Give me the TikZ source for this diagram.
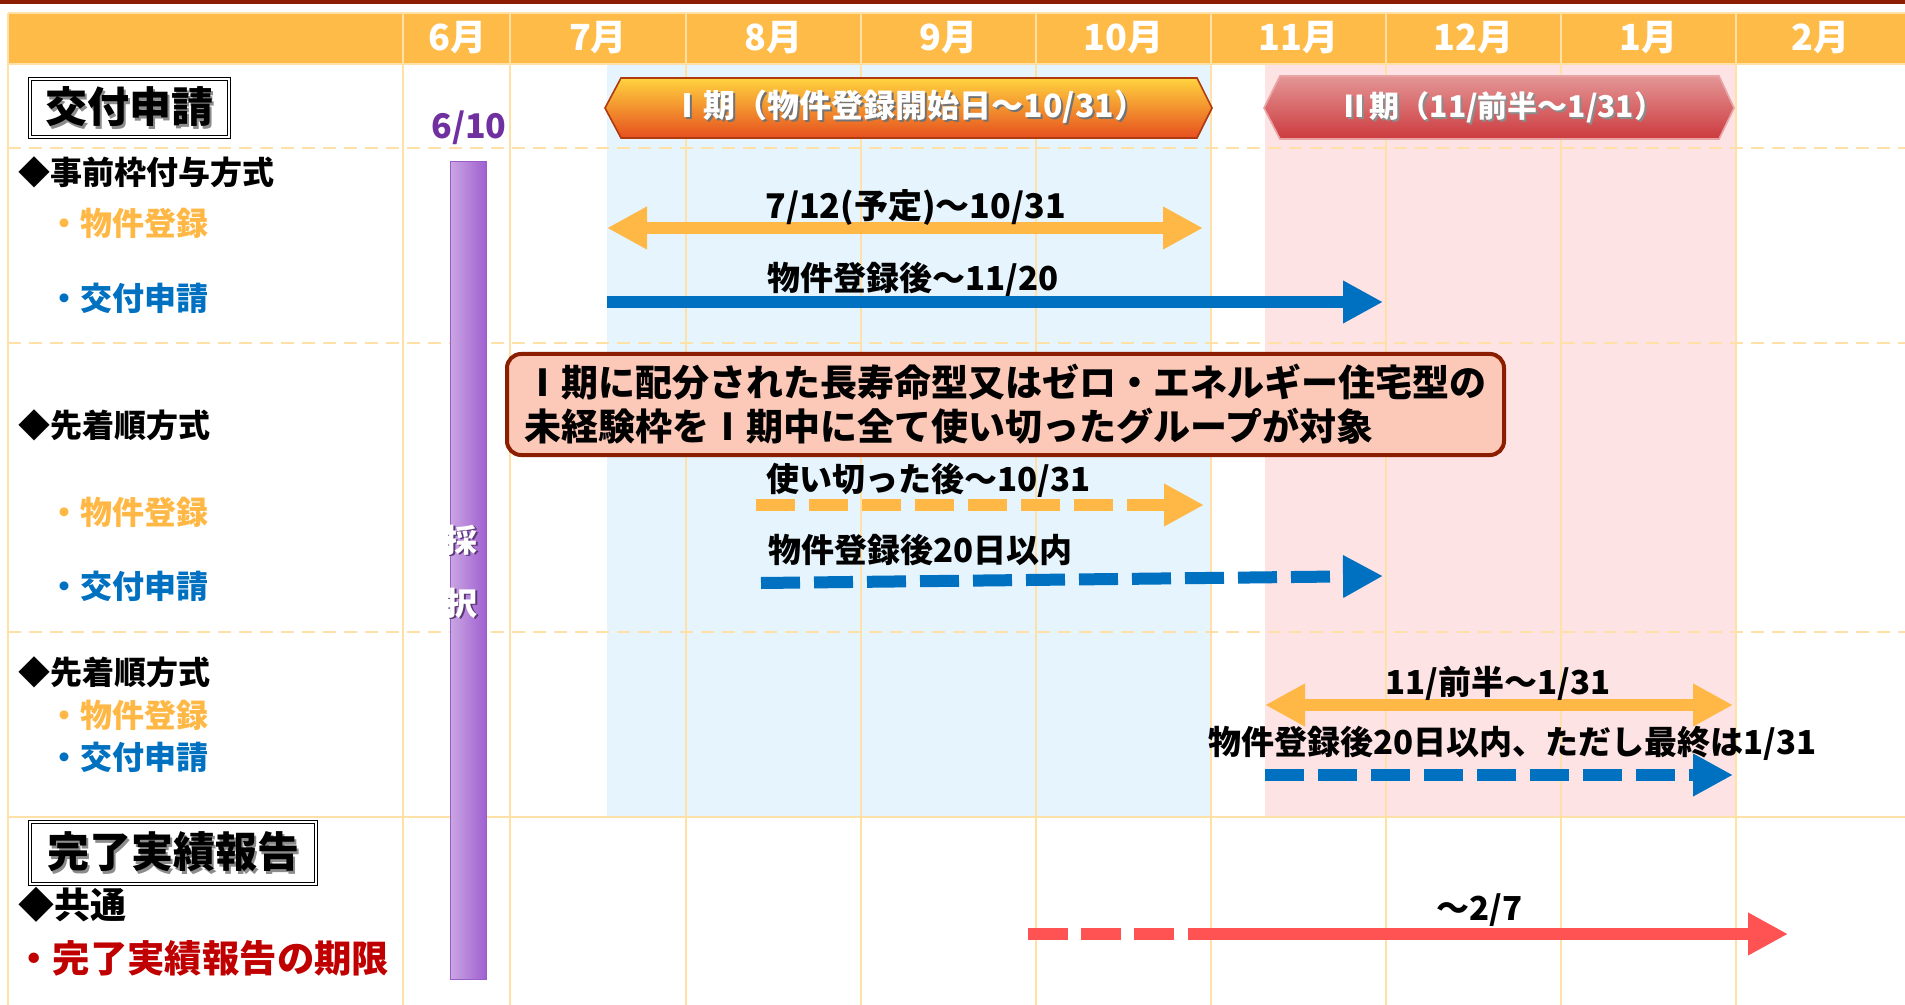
\documentclass[tikz,border=0pt]{standalone}
\usepackage{fontspec}
\setmainfont{Noto Sans CJK JP}
\usetikzlibrary{arrows.meta}
\definecolor{hdr}{HTML}{FFBB47}
\definecolor{gridc}{HTML}{FFE0A6}
\definecolor{topbar}{HTML}{8B1E00}
\definecolor{tintblue}{HTML}{E5F4FD}
\definecolor{tintpink}{HTML}{FDE3E4}
\definecolor{arrorange}{HTML}{FFB845}
\definecolor{arrblue}{HTML}{0070C0}
\definecolor{arrred}{HTML}{FF5252}
\definecolor{txtred}{HTML}{C00000}
\definecolor{purpletxt}{HTML}{7030A0}
\definecolor{calloutfill}{HTML}{FCC9B9}
\definecolor{calloutdraw}{HTML}{8B1E00}
\definecolor{barL}{HTML}{CAA6E3}
\definecolor{barR}{HTML}{A060D0}
\definecolor{barD}{HTML}{9A5CC8}
\definecolor{banItop}{HTML}{FFD33F}
\definecolor{banImid}{HTML}{F4A432}
\definecolor{banIbot}{HTML}{E64F1E}
\definecolor{banIdraw}{HTML}{B03A10}
\definecolor{banIItop}{HTML}{E49696}
\definecolor{banIIbot}{HTML}{CC3A3E}
\definecolor{banIIdraw}{HTML}{E8A4A4}
\newcommand{\shadowedx}[5]{\leavevmode\rlap{\kern#1\raisebox{-#2}{\color{#3}#5}}{\color{#4}#5}}
\begin{document}
\begin{tikzpicture}[x=0.5pt,y=-0.5pt,
  >={Triangle[length=20pt,width=20pt]},
  gridline/.style={gridc, line width=1.4pt},
  month/.style={font=\fontsize{18}{18}\selectfont\bfseries, text=white, inner sep=0pt},
  lbl/.style={font=\fontsize{16}{16}\selectfont\bfseries, anchor=west, inner sep=0pt},
  arrlbl/.style={font=\fontsize{16.5}{16.5}\selectfont\bfseries, inner sep=0pt},
  arrline/.style={line width=6pt},
  dashpat/.style={dash pattern=on 19.5pt off 7pt},
  titlebox/.style={draw=black, double=white, double distance=1.2pt, line width=0.6pt,
    fill=white, font=\fontsize{21}{21}\selectfont\bfseries, inner sep=0pt},
  bantext/.style={font=\fontsize{16}{16}\selectfont\bfseries, inner sep=0pt},
  bartext/.style={font=\fontsize{16}{16}\selectfont\bfseries, inner sep=0pt}
]
\useasboundingbox (0,0) rectangle (1905,1005);
% backgrounds
\fill[topbar] (0,0) rectangle (1905,4);
\fill[hdr] (8,13) rectangle (1905,64);
\fill[tintblue] (607,65) rectangle (1211,817);
\fill[tintpink] (1265,65) rectangle (1736,817);
% grid
\foreach \x in {8,403,510,686,861,1036,1211,1386,1561,1736}
  \draw[gridline] (\x,13) -- (\x,1005);
\draw[gridline] (8,13) -- (1905,13);
\draw[gridline] (8,64) -- (1905,64);
\draw[gridline] (8,817) -- (1905,817);
\foreach \y in {148,343,632}
  \draw[gridline, dash pattern=on 6.5pt off 4pt] (8,\y) -- (1905,\y);
% months
\foreach \x/\m [count=\i] in {457.5/6,598/7,773.5/8,948.5/9,1123.5/10,1298.5/11,1473.5/12,1648.5/1,1820.5/2}
  \node[month] (m\i) at (\x,38) {\m 月};
% title boxes
\node[titlebox, minimum width=99.5pt, minimum height=29pt] (t1) at (129.5,108) {\shadowedx{1.2pt}{1.2pt}{black!45}{black}{交付申請}};
\node[titlebox, minimum width=143pt, minimum height=31pt] (t2) at (173,853) {\shadowedx{1.2pt}{1.2pt}{black!45}{black}{完了実績報告}};
% left labels
\node[lbl] (l1) at (18,172) {◆事前枠付与方式};
\node[lbl, text=arrorange] (l2) at (48,223) {・物件登録};
\node[lbl, text=arrblue] (l3) at (48,298) {・交付申請};
\node[lbl] (l4) at (18,425) {◆先着順方式};
\node[lbl, text=arrorange] (l5) at (48,512) {・物件登録};
\node[lbl, text=arrblue] (l6) at (48,586) {・交付申請};
\node[lbl] (l7) at (18,672) {◆先着順方式};
\node[lbl, text=arrorange] (l8) at (48,715) {・物件登録};
\node[lbl, text=arrblue] (l9) at (48,757) {・交付申請};
\node[lbl, font=\fontsize{18}{18}\selectfont\bfseries] (l10) at (18,905) {◆共通};
\node[lbl, font=\fontsize{18.7}{18.7}\selectfont\bfseries, text=txtred] (l11) at (15,958) {・完了実績報告の期限};
% 6/10 and purple bar
\node[font=\fontsize{17}{17}\selectfont\bfseries, text=purpletxt, inner sep=0pt] (d610) at (469,128) {6/10};
\path[left color=barL, right color=barR, draw=barD, line width=0.5pt] (450,162) rectangle (486,979);
\node[bartext] (sai) at (461,541) {\shadowedx{1pt}{0.8pt}{barD!60!black}{white}{採}};
\node[bartext] (taku) at (461,604) {\shadowedx{1pt}{0.8pt}{barD!60!black}{white}{択}};
% banners
\path[draw=banIdraw, line width=0.8pt, top color=banItop, middle color=banImid, bottom color=banIbot]
  (605,108) -- (621,78) -- (1197,78) -- (1212,108) -- (1197,138) -- (621,138) -- cycle;
\node[bantext] (b1) at (909,108) {\shadowedx{1pt}{1pt}{black!55}{white}{Ⅰ期（物件登録開始日～10/31）}};
\path[draw=banIIdraw, line width=0.8pt, top color=banIItop, bottom color=banIIbot]
  (1264,108) -- (1280,76) -- (1719,76) -- (1734,108) -- (1719,139) -- (1280,139) -- cycle;
\node[bantext, font=\fontsize{15}{15}\selectfont\bfseries] (b2) at (1502,108) {\shadowedx{1pt}{1pt}{black!45}{white}{Ⅱ期（11/前半～1/31）}};
% callout
\node[draw=calloutdraw, fill=calloutfill, line width=2pt, rounded corners=7pt,
  minimum width=498.5pt, minimum height=50.5pt, align=left, inner sep=0pt,
  font=\fontsize{18.5}{22}\selectfont\bfseries] (call) at (1005.5,404.5)
  {Ⅰ期に配分された長寿命型又はゼロ・エネルギー住宅型の\\未経験枠をⅠ期中に全て使い切ったグループが対象};
% arrows
\coordinate (a1s) at (607,228); \coordinate (a1e) at (1203,228);
\draw[arrline, arrorange, <->] (a1s) -- (a1e);
\node[arrlbl, anchor=west, font=\fontsize{17}{17}\selectfont\bfseries] (a1l) at (765,207) {7/12(予定)～10/31};
\coordinate (a2s) at (607,302); \coordinate (a2e) at (1383,302);
\draw[arrline, arrblue, ->] (a2s) -- (a2e);
\node[arrlbl, anchor=west] (a2l) at (767,279) {物件登録後～11/20};
\coordinate (a3s) at (756,505); \coordinate (a3e) at (1204,505);
\draw[arrline, arrorange, dashpat, ->] (a3s) -- (a3e);
\node[arrlbl, anchor=west] (a3l) at (766,480) {使い切った後～10/31};
\coordinate (a4s) at (761,583); \coordinate (a4e) at (1383,576);
\draw[arrline, arrblue, dashpat, ->] (a4s) -- (a4e);
\node[arrlbl, anchor=west] (a4l) at (768,550) {物件登録後20日以内};
\coordinate (a5s) at (1265,705); \coordinate (a5e) at (1733,705);
\draw[arrline, arrorange, <->] (a5s) -- (a5e);
\node[arrlbl] (a5l) at (1498,683) {11/前半～1/31};
\coordinate (a6s) at (1265,775); \coordinate (a6e) at (1733,775);
\draw[arrline, arrblue, dashpat, ->] (a6s) -- (a6e);
\node[arrlbl, anchor=west] (a6l) at (1208,743) {物件登録後20日以内、ただし最終は1/31};
\coordinate (a7s) at (1028,934); \coordinate (a7m) at (1175,934);
\coordinate (a7n) at (1188,934); \coordinate (a7e) at (1788,934);
\draw[arrline, arrred, dash pattern=on 20pt off 6.5pt] (a7s) -- (a7m);
\draw[arrline, arrred, ->] (a7n) -- (a7e);
\node[arrlbl, anchor=west] (a7l) at (1436,910) {～2/7};
\end{tikzpicture}
\end{document}
